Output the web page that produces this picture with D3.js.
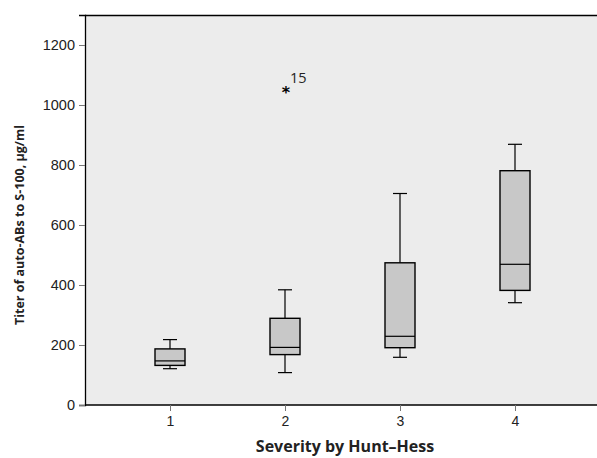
<!DOCTYPE html>
<html>
<head>
<meta charset="utf-8">
<script src="https://cdn.jsdelivr.net/npm/d3@7"></script>
<style>
  body { margin: 0; background: #fff; }
  svg { display: block; font-family: "Open Sans", "Noto Sans", sans-serif; }
</style>
</head>
<body>
<svg id="chart" width="597" height="458"></svg>
<script>
// severity groups and box statistics
var groups = ['1', '2', '3', '4'];
var whiskerLow = [121, 108, 159, 341];
var q1 = [132, 168, 191, 382];
var median = [147, 192, 229, 469];
var q3 = [187, 289, 474, 781];
var whiskerHigh = [218, 384, 705, 869];
var outliers = [{group: '2', value: 1050, label: '15'}];
var yTicks = [0, 200, 400, 600, 800, 1000, 1200];

var svg = d3.select('#chart');
var margin = {left: 85, top: 15, right: 0, bottom: 53};
var W = 597, H = 458;

var x = d3.scalePoint().domain(groups).range([170, 515]);
var y = d3.scaleLinear().domain([0, 1300]).range([H - margin.bottom, margin.top]);

// plot background
svg.append('rect')
  .attr('x', margin.left).attr('y', margin.top)
  .attr('width', W - margin.left).attr('height', y(0) - margin.top)
  .attr('fill', '#ececec');

// frame: top and left
svg.append('line').attr('x1', margin.left).attr('x2', W)
  .attr('y1', margin.top + 0.5).attr('y2', margin.top + 0.5)
  .attr('stroke', '#000').attr('stroke-width', 1.3);

var yAxis = svg.append('g')
  .attr('transform', 'translate(' + margin.left + ',0)')
  .call(d3.axisLeft(y).tickValues(yTicks).tickFormat(d3.format('d')).tickSize(6).tickPadding(4));
yAxis.select('.domain').attr('stroke', '#000').attr('stroke-width', 1.3);
yAxis.selectAll('.tick line').attr('stroke', '#777');
yAxis.selectAll('.tick text').attr('font-size', 14.5).attr('fill', '#222');

var xAxis = svg.append('g')
  .attr('transform', 'translate(0,' + y(0) + ')')
  .call(d3.axisBottom(x).tickSize(6).tickPadding(5));
xAxis.select('.domain').attr('d', 'M' + margin.left + ',0H' + W)
  .attr('stroke', '#000').attr('stroke-width', 1.3);
xAxis.selectAll('.tick line').attr('stroke', '#777');
xAxis.selectAll('.tick text').attr('font-size', 14).attr('fill', '#222');

var boxW = 30, capW = 14;
var data = groups.map(function(g, i) {
  return {g: g, lo: whiskerLow[i], q1: q1[i], med: median[i], q3: q3[i], hi: whiskerHigh[i]};
});

var box = svg.selectAll('g.box').data(data).enter().append('g').attr('class', 'box');

// whiskers
box.append('line')
  .attr('x1', function(d) { return x(d.g); }).attr('x2', function(d) { return x(d.g); })
  .attr('y1', function(d) { return y(d.hi); }).attr('y2', function(d) { return y(d.q3); })
  .attr('stroke', '#000').attr('stroke-width', 1.2);
box.append('line')
  .attr('x1', function(d) { return x(d.g); }).attr('x2', function(d) { return x(d.g); })
  .attr('y1', function(d) { return y(d.q1); }).attr('y2', function(d) { return y(d.lo); })
  .attr('stroke', '#000').attr('stroke-width', 1.2);
['hi', 'lo'].forEach(function(k) {
  box.append('line')
    .attr('x1', function(d) { return x(d.g) - capW / 2; })
    .attr('x2', function(d) { return x(d.g) + capW / 2; })
    .attr('y1', function(d) { return y(d[k]); }).attr('y2', function(d) { return y(d[k]); })
    .attr('stroke', '#000').attr('stroke-width', 1.2);
});

// boxes
box.append('rect')
  .attr('x', function(d) { return x(d.g) - boxW / 2; })
  .attr('y', function(d) { return y(d.q3); })
  .attr('width', boxW)
  .attr('height', function(d) { return y(d.q1) - y(d.q3); })
  .attr('fill', '#c8c8c8').attr('stroke', '#000').attr('stroke-width', 1.4);
box.append('line')
  .attr('x1', function(d) { return x(d.g) - boxW / 2; })
  .attr('x2', function(d) { return x(d.g) + boxW / 2; })
  .attr('y1', function(d) { return y(d.med); }).attr('y2', function(d) { return y(d.med); })
  .attr('stroke', '#000').attr('stroke-width', 1.2);

// extreme values
var ol = svg.selectAll('g.outlier').data(outliers).enter().append('g').attr('class', 'outlier');
ol.append('text')
  .attr('x', function(d) { return x(d.group) + 1; })
  .attr('y', function(d) { return y(d.value) + 8; })
  .attr('text-anchor', 'middle').attr('font-size', 16).attr('font-weight', 'bold')
  .attr('font-family', 'DejaVu Sans')
  .text('*');
ol.append('text')
  .attr('x', function(d) { return x(d.group) + 5; })
  .attr('y', function(d) { return y(d.value) - 7; })
  .attr('font-size', 14.5).attr('fill', '#222')
  .text(function(d) { return d.label; });

// axis titles
svg.append('text')
  .attr('x', (margin.left + W) / 2 + 4).attr('y', 452)
  .attr('text-anchor', 'middle').attr('font-size', 16).attr('font-weight', 'bold')
  .attr('fill', '#222')
  .text('Severity by Hunt\u2013Hess');
svg.append('text')
  .attr('transform', 'translate(24,225) rotate(-90)')
  .attr('text-anchor', 'middle').attr('font-size', 12.5).attr('font-weight', 'bold')
  .attr('fill', '#222')
  .text('Titer of auto-ABs to S-100, \u03bcg/ml');
</script>
</body>
</html>
